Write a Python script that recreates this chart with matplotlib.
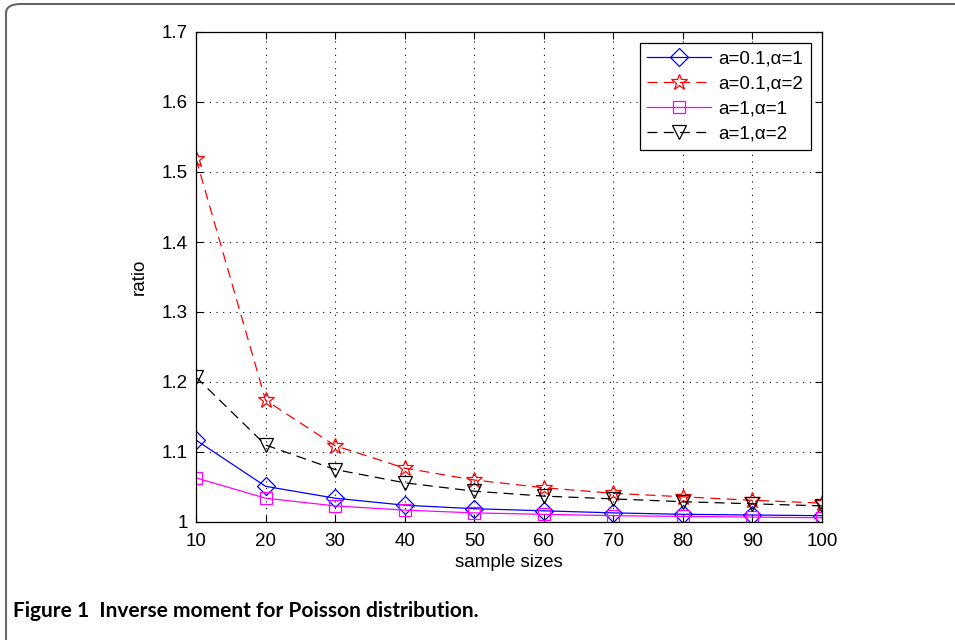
import matplotlib
matplotlib.use('Agg')
import matplotlib.pyplot as plt
from matplotlib.patches import FancyBboxPatch

# sample sizes and ratios
n = [10, 20, 30, 40, 50, 60, 70, 80, 90, 100]
r_a01_al1 = [1.117, 1.051, 1.034, 1.024, 1.019, 1.016, 1.013, 1.011, 1.010, 1.009]
r_a01_al2 = [1.519, 1.174, 1.109, 1.077, 1.060, 1.049, 1.041, 1.036, 1.031, 1.027]
r_a1_al1 = [1.063, 1.034, 1.023, 1.017, 1.013, 1.011, 1.009, 1.008, 1.007, 1.006]
r_a1_al2 = [1.207, 1.110, 1.075, 1.056, 1.044, 1.037, 1.033, 1.029, 1.026, 1.023]

plt.rcParams['font.family'] = ['Liberation Sans', 'DejaVu Sans']

fig = plt.figure(figsize=(9.55, 6.4), dpi=100)
ax = fig.add_axes([196/955, 1-522/640, 626/955, 490/640])

ax.plot(n, r_a01_al1, color='blue', lw=0.9, marker='D', ms=9, mfc='none', mec='blue',
        mew=0.9, label='a=0.1,α=1')
ax.plot(n, r_a01_al2, color='red', lw=0.9, ls=(0, (8, 5)), marker='*', ms=12, mfc='none',
        mec='red', mew=0.9, label='a=0.1,α=2')
ax.plot(n, r_a1_al1, color='magenta', lw=0.9, marker='s', ms=8, mfc='none', mec='magenta',
        mew=0.9, label='a=1,α=1')
ax.plot(n, r_a1_al2, color='black', lw=0.9, ls=(0, (8, 5)), marker='v', ms=10, mfc='none',
        mec='black', mew=0.9, label='a=1,α=2')

ax.set_xlim(10, 100)
ax.set_ylim(1, 1.7)
ax.set_xticks(n)
ax.set_yticks([1, 1.1, 1.2, 1.3, 1.4, 1.5, 1.6, 1.7])
ax.set_yticklabels(['1', '1.1', '1.2', '1.3', '1.4', '1.5', '1.6', '1.7'])
ax.grid(True, color='black', ls=(0, (1, 5)), lw=0.8)
ax.tick_params(direction='in', top=True, right=True, labelsize=13.5, length=5, width=0.8)
ax.tick_params(axis='x', pad=8)
ax.tick_params(axis='y', pad=6)
for s in ax.spines.values():
    s.set_linewidth(0.9)
ax.set_xlabel('sample sizes', fontsize=13.5, labelpad=3)
ax.set_ylabel('ratio', fontsize=13.5, labelpad=10)

leg = ax.legend(loc='upper right', fontsize=13.5, fancybox=False, framealpha=1,
                edgecolor='black', borderaxespad=0.6, handlelength=3.4,
                labelspacing=0.42, handletextpad=0.4, borderpad=0.4)
leg.get_frame().set_linewidth(0.9)

# caption and page frame
fig.text(13/955, 1-617/640, 'Figure 1  Inverse moment for Poisson distribution.',
         fontsize=15, fontweight='bold', family='Lato', va='baseline')
frame = FancyBboxPatch((6/955, -10/640), 1.1, 1-4/640+10/640,
                       boxstyle='round,pad=0,rounding_size=0.015',
                       transform=fig.transFigure, fill=False, ec='#666666', lw=1.5)
fig.patches.append(frame)

fig.savefig('out.png', dpi=100)
